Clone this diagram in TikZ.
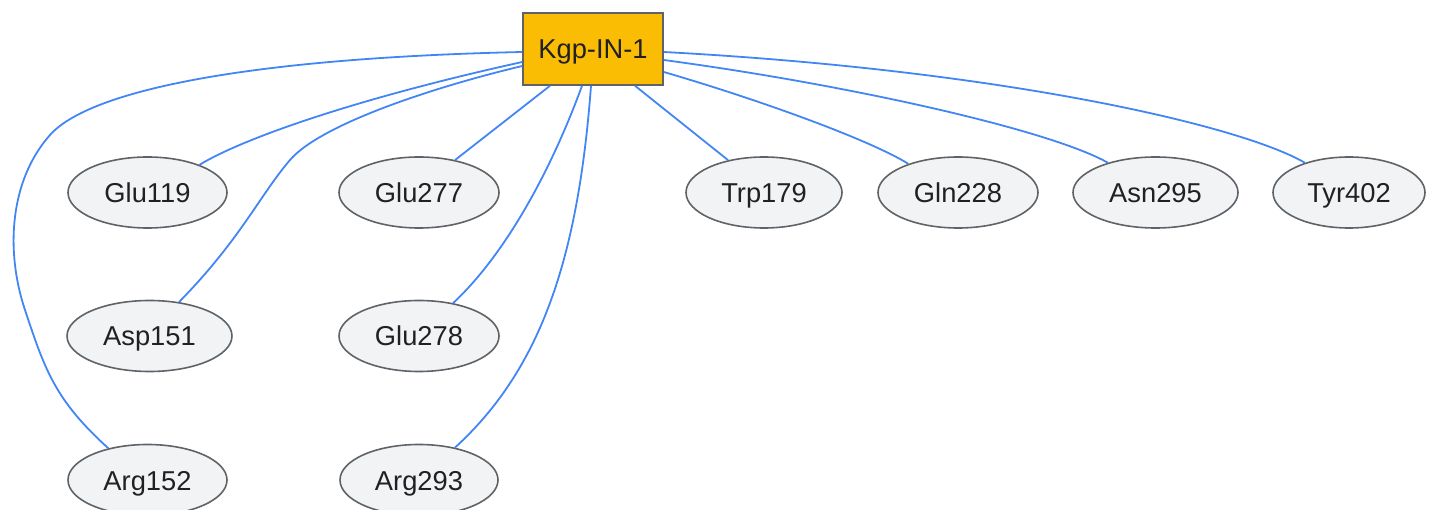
\documentclass[tikz,border=0pt]{standalone}
\usepackage{fontspec}
\setmainfont{Liberation Sans}
\usetikzlibrary{shapes.geometric}
\definecolor{edgeblue}{HTML}{4285F4}
\definecolor{gold}{HTML}{FBBC04}
\definecolor{bordergray}{HTML}{5F6368}
\definecolor{lightfill}{HTML}{F1F3F4}
\definecolor{textgray}{HTML}{202124}
\begin{document}
\begin{tikzpicture}[x=1pt,y=-1pt,
  every node/.style={font=\fontsize{27.3}{32}\selectfont, text=textgray, text height=20pt, text depth=0pt},
  drugbox/.style={draw=bordergray, line width=1.6pt, fill=gold, minimum width=140pt, minimum height=72pt, inner sep=0pt},
  residue/.style={ellipse, draw=bordergray, line width=1.6pt, fill=lightfill, minimum height=71pt, inner sep=0pt},
  link/.style={draw=edgeblue, line width=1.8pt}]
\useasboundingbox (0,0) rectangle (1433,510);
\node[drugbox] (k) at (593,49) {Kgp-IN-1};
\node[residue, minimum width=159pt] (g119) at (147.5,192.5) {Glu119};
\node[residue, minimum width=160pt] (g277) at (419,192.5) {Glu277};
\node[residue, minimum width=156pt] (t179) at (764,192.5) {Trp179};
\node[residue, minimum width=160pt] (q228) at (958,192.5) {Gln228};
\node[residue, minimum width=165pt] (n295) at (1155.5,192.5) {Asn295};
\node[residue, minimum width=152pt] (y402) at (1349,192.5) {Tyr402};
\node[residue, minimum width=165pt] (a151) at (149.5,336) {Asp151};
\node[residue, minimum width=160pt] (g278) at (419,336) {Glu278};
\node[residue, minimum width=159pt] (r152) at (147.5,480) {Arg152};
\node[residue, minimum width=158pt] (r293) at (419,480) {Arg293};
% connectors
\path[link] ([yshift=-13pt]k.west) .. controls (350,100) and (240,140) .. (g119.28);
\path[link] ([yshift=-17pt]k.west) .. controls (430,88) and (320,125) .. (290,160)
   .. controls (260,195) and (240,240) .. (a151.49);
\path[link] ([yshift=-3pt]k.west) .. controls (250,58) and (90,90) .. (50,135)
   .. controls (10,180) and (5,250) .. (25,310)
   .. controls (45,370) and (55,400) .. (r152.141);
\path[link] ([xshift=-43pt]k.south) -- (g277.42);
\path[link] ([xshift=-11pt]k.south) .. controls (555,160) and (510,250) .. (g278.44);
\path[link] ([xshift=-2pt]k.south) .. controls (578,260) and (540,370) .. (r293.42);
\path[link] ([xshift=42pt]k.south) -- (t179.138);
\path[link] ([yshift=-23pt]k.east) .. controls (760,100) and (870,140) .. (q228.150);
\path[link] ([yshift=-11pt]k.east) .. controls (850,85) and (1050,130) .. (n295.148);
\path[link] ([yshift=-3pt]k.east) .. controls (1000,70) and (1240,125) .. (y402.146);
\end{tikzpicture}
\end{document}
